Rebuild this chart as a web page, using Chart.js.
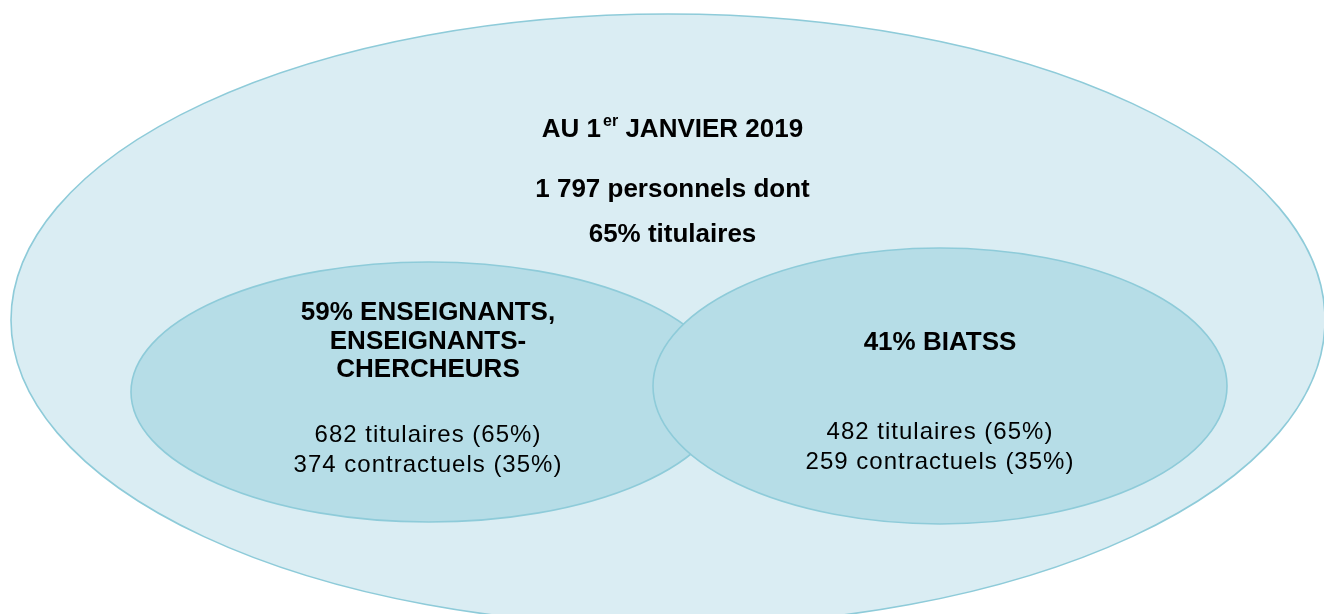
<!DOCTYPE html>
<html>
<head>
<meta charset="utf-8">
<script src="https://cdn.jsdelivr.net/npm/chart.js@4.4.1/dist/chart.umd.min.js"></script>
<style>
  html, body { margin: 0; padding: 0; background: #ffffff; }
  #wrap { width: 1324px; height: 614px; position: relative; }
</style>
</head>
<body>
<div id="wrap"><canvas id="chart"></canvas></div>
<script>
// values
var dateDay = '1';
var dateSup = 'er';
var dateRest = 'JANVIER 2019';
var totalStaff = '1 797';
var totalTitularPct = 65;
var groupTitles = [['ENSEIGNANTS,', 'ENSEIGNANTS-', 'CHERCHEURS'], ['BIATSS']];
var groupPct = [59, 41];
var groupTitulaires = [682, 482];
var groupTitulairesPct = [65, 65];
var groupContractuels = [374, 259];
var groupContractuelsPct = [35, 35];

// ellipse layout, in scale units (the scales map 1:1 to the page)
var shapes = [
  { cx: 668, cy: 320, rx: 657, ry: 306, fill: '#daedf3' },
  { cx: 429, cy: 392, rx: 298, ry: 130, fill: '#b6dde7' },
  { cx: 940, cy: 386, rx: 287, ry: 138, fill: '#b6dde7' }
];
var strokeCol = '#8ecbd9';
var FONT = '"Liberation Sans", Arial, sans-serif';

var ellipsePlugin = {
  id: 'ellipses',
  beforeDatasetsDraw: function(chart) {
    var ctx = chart.ctx, xs = chart.scales.x, ys = chart.scales.y;
    ctx.save();
    shapes.forEach(function(s) {
      var cx = xs.getPixelForValue(s.cx), cy = ys.getPixelForValue(s.cy);
      var rx = Math.abs(xs.getPixelForValue(s.cx + s.rx) - cx);
      var ry = Math.abs(ys.getPixelForValue(s.cy + s.ry) - cy);
      ctx.beginPath();
      ctx.ellipse(cx, cy, rx, ry, 0, 0, Math.PI * 2);
      ctx.fillStyle = s.fill;
      ctx.fill();
      ctx.lineWidth = 1.6;
      ctx.strokeStyle = strokeCol;
      ctx.stroke();
    });
    ctx.restore();
  }
};

var labelPlugin = {
  id: 'labels',
  afterDatasetsDraw: function(chart) {
    var ctx = chart.ctx, xs = chart.scales.x, ys = chart.scales.y;
    var bold = 'bold 26px ' + FONT;
    var norm = '24px ' + FONT;
    function put(text, x, y, font, spacing) {
      ctx.font = font;
      ctx.letterSpacing = spacing || '0px';
      ctx.fillText(text, xs.getPixelForValue(x), ys.getPixelForValue(y));
    }
    ctx.save();
    ctx.fillStyle = '#000000';
    ctx.textBaseline = 'alphabetic';

    // title with superscript
    var a = 'AU ' + dateDay, b = ' ' + dateRest;
    var supFont = 'bold 16px ' + FONT;
    ctx.font = bold;
    var wa = ctx.measureText(a).width, wb = ctx.measureText(b).width;
    ctx.font = supFont;
    var ws = ctx.measureText(dateSup).width;
    var x0 = xs.getPixelForValue(672.5) - (wa + ws + wb + 2) / 2;
    var ty = ys.getPixelForValue(137);
    ctx.textAlign = 'left';
    ctx.font = bold;
    ctx.fillText(a, x0, ty);
    ctx.font = supFont;
    ctx.fillText(dateSup, x0 + wa + 2, ty - 11);
    ctx.font = bold;
    ctx.fillText(b, x0 + wa + ws + 2, ty);

    ctx.textAlign = 'center';
    put(totalStaff + ' personnels dont', 672.5, 197, bold);
    put(totalTitularPct + '% titulaires', 672.5, 242, bold);

    // left group
    var t = groupTitles[0];
    put(groupPct[0] + '% ' + t[0], 428, 320, bold);
    put(t[1], 428, 348.5, bold);
    put(t[2], 428, 377, bold);
    put(groupTitulaires[0] + ' titulaires (' + groupTitulairesPct[0] + '%)', 428, 442, norm, '1px');
    put(groupContractuels[0] + ' contractuels (' + groupContractuelsPct[0] + '%)', 428, 472, norm, '1px');

    // right group
    put(groupPct[1] + '% ' + groupTitles[1][0], 940, 349.5, bold);
    put(groupTitulaires[1] + ' titulaires (' + groupTitulairesPct[1] + '%)', 940, 438.5, norm, '1px');
    put(groupContractuels[1] + ' contractuels (' + groupContractuelsPct[1] + '%)', 940, 468.5, norm, '1px');
    ctx.restore();
  }
};

new Chart(document.getElementById('chart'), {
  type: 'scatter',
  data: {
    datasets: [{
      data: shapes.map(function(s) { return { x: s.cx, y: s.cy }; }),
      pointRadius: 0
    }]
  },
  options: {
    responsive: true,
    maintainAspectRatio: false,
    animation: false,
    layout: { padding: 0 },
    plugins: { legend: { display: false }, tooltip: { enabled: false } },
    scales: {
      x: { type: 'linear', min: 0, max: 1324, display: false },
      y: { type: 'linear', min: 0, max: 614, reverse: true, display: false }
    }
  },
  plugins: [ellipsePlugin, labelPlugin]
});
</script>
</body>
</html>
